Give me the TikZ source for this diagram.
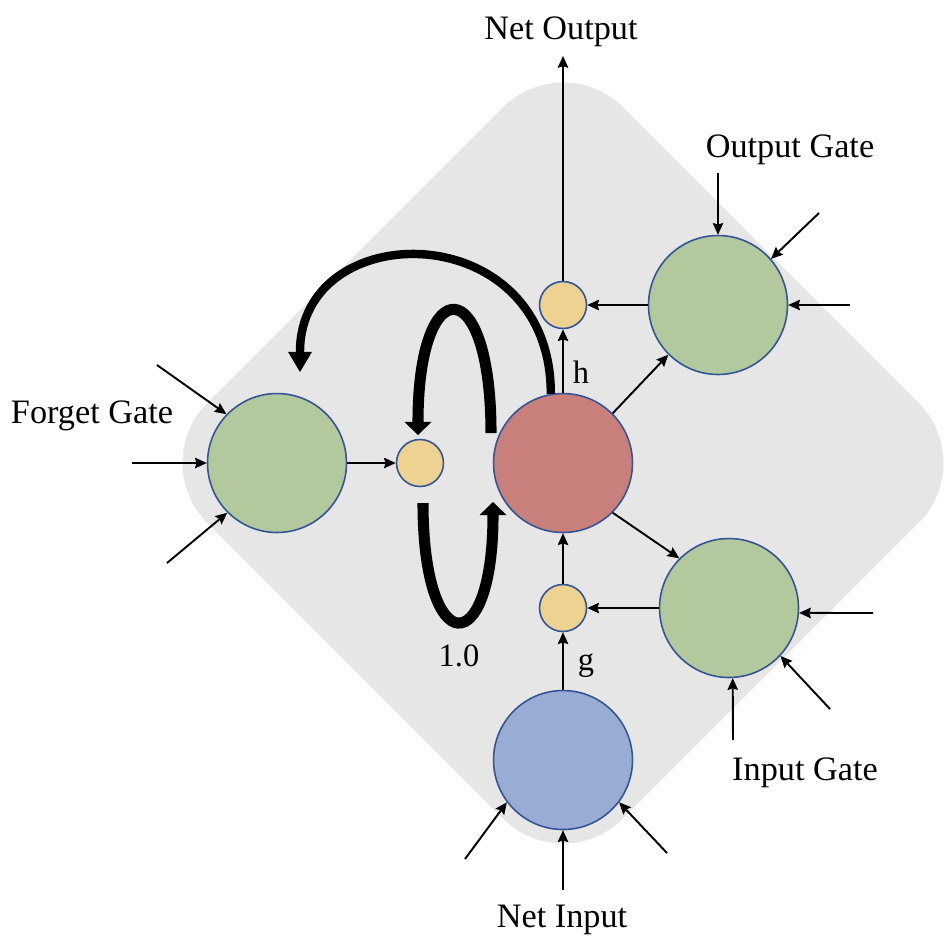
\documentclass[tikz,border=0pt]{standalone}
\usepackage{fontspec}
\setmainfont{Liberation Serif}
\usetikzlibrary{arrows.meta}
\definecolor{gategreen}{RGB}{178,200,157}
\definecolor{cellred}{RGB}{201,128,124}
\definecolor{inblue}{RGB}{153,172,211}
\definecolor{multyellow}{RGB}{238,210,146}
\definecolor{rim}{RGB}{52,84,150}
\definecolor{backgray}{RGB}{230,230,230}
\begin{document}
\begin{tikzpicture}[
    wire/.style={-{Stealth[length=6.8pt,width=6.2pt,inset=1pt,line width=0pt]},line width=1.1pt},
    unit/.style={circle,draw=rim,line width=0.9pt,minimum size=2.78cm,inner sep=0pt},
    mult/.style={circle,draw=rim,line width=0.9pt,fill=multyellow,minimum size=0.94cm,inner sep=0pt},
    lbl/.style={font=\fontsize{19.5}{22}\selectfont,anchor=base,inner sep=0pt},
    sym/.style={font=\fontsize{18.5}{21}\selectfont,anchor=base,inner sep=0pt},
    flow/.style={line width=6.3pt}]
    \def\x{0.02}
    \def\y{-0.02}
    \useasboundingbox (0,0) rectangle (952*\x,944*\y);
    \node [rotate=45,fill=backgray,rounded corners=1.7cm,minimum size=11.76cm,inner sep=0pt] (B) at (563*\x,463*\y) {};
    \node [unit,fill=cellred] (C) at (563*\x,463*\y) {};
    \node [unit,fill=gategreen] (Gf) at (277*\x,463*\y) {};
    \node [unit,fill=gategreen] (Go) at (718*\x,305*\y) {};
    \node [unit,fill=gategreen] (Gi) at (729*\x,608*\y) {};
    \node [unit,fill=inblue] (N) at (563*\x,760*\y) {};
    \node [mult] (Mf) at (420*\x,463*\y) {};
    \node [mult] (Mh) at (563*\x,305*\y) {};
    \node [mult] (Mg) at (563*\x,608*\y) {};
    \node [lbl] (T_no) at (561*\x,39*\y) {Net Output};
    \node [lbl] (T_og) at (790*\x,157*\y) {Output Gate};
    \node [lbl] (T_fg) at (92*\x,423*\y) {Forget Gate};
    \node [lbl] (T_ig) at (805*\x,780*\y) {Input Gate};
    \node [lbl] (T_ni) at (562*\x,927*\y) {Net Input};
    \node [sym] (T_h) at (581*\x,383*\y) {h};
    \node [sym] (T_g) at (586*\x,670*\y) {g};
    \node [sym] (T_one) at (459*\x,666*\y) {1.0};
    \coordinate (f1) at (157*\x,365*\y);
    \coordinate (f2) at (132*\x,463*\y);
    \coordinate (f3) at (167*\x,563*\y);
    \coordinate (o1) at (718*\x,173*\y);
    \coordinate (o2) at (819*\x,213*\y);
    \coordinate (o3) at (850*\x,305*\y);
    \coordinate (i1) at (873*\x,613*\y);
    \coordinate (i2) at (830*\x,709*\y);
    \coordinate (i3) at (733*\x,740*\y);
    \coordinate (n1) at (465*\x,859*\y);
    \coordinate (n2) at (563*\x,890*\y);
    \coordinate (n3) at (667*\x,853*\y);
    \coordinate (out) at (563*\x,56*\y);
    \path (f1) edge [wire] (Gf.136);
    \path (f2) edge [wire] (Gf.west);
    \path (f3) edge [wire] (Gf.225);
    \path (Gf.east) edge [wire] (Mf.west);
    \path (o1) edge [wire] (Go.north);
    \path (o2) edge [wire] (Go.41);
    \path (o3) edge [wire] (Go.east);
    \path (Go.west) edge [wire] (Mh.east);
    \path (C.45) edge [wire] (Go.225);
    \path (C.north) edge [wire] (Mh.south);
    \path (Mh.north) edge [wire] (out);
    \path (i1) edge [wire] (Gi.356);
    \path (i2) edge [wire] (Gi.317);
    \path (i3) edge [wire] (Gi.273);
    \path (Gi.west) edge [wire] (Mg.east);
    \path (C.315) edge [wire] (Gi.135);
    \path (Mg.north) edge [wire] (C.south);
    \path (n1) edge [wire] (N.217);
    \path (n2) edge [wire] (N.south);
    \path (n3) edge [wire] (N.323);
    \path (N.north) edge [wire] (Mg.south);
    \coordinate (u0) at (491*\x,433*\y);
    \coordinate (u1) at (418*\x,435*\y);
    \coordinate (d0) at (423*\x,503*\y);
    \coordinate (d1) at (493*\x,502*\y);
    \coordinate (a1) at (300*\x,372*\y);
    \draw [flow,line width=4.8pt,-{Triangle[length=11.5pt,width=13.7pt,line width=0pt]}]
      (C.100) .. controls (551*\x,215*\y) and (300*\x,215*\y) .. (a1);
    \draw [flow,-{Triangle[length=7.5pt,width=15.5pt,line width=0pt]}]
      (u0) .. controls (491*\x,270*\y) and (418*\x,270*\y) .. (u1);
    \draw [flow,-{Triangle[length=7.5pt,width=15.5pt,line width=0pt]}]
      (d0) .. controls (423*\x,661*\y) and (493*\x,661*\y) .. (d1);
  \end{tikzpicture}
\end{document}
